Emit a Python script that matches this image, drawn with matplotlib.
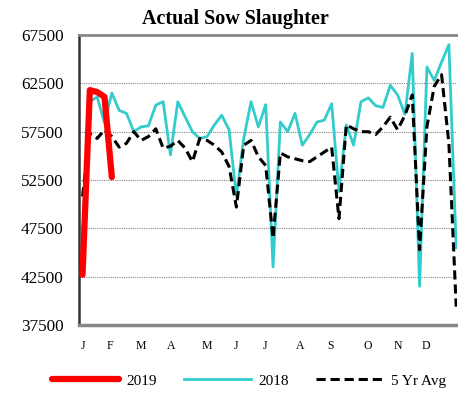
import numpy as np
import matplotlib
matplotlib.use('Agg')
import matplotlib.pyplot as plt

plt.rcParams['font.family'] = ['Liberation Serif', 'DejaVu Serif']

weeks = list(range(1, 53))
y2019 = [42700, 61800, 61600, 61100, 52800]
y2018 = [46800, 60600, 61100, 58400, 61500, 59700, 59400, 57500, 58000, 58100,
         60250, 60600, 55100, 60600, 59050, 57500, 56800, 57000, 58200, 59200,
         57700, 50800, 56800, 60600, 58000, 60300, 43500, 58500, 57500, 59400,
         56100, 57200, 58500, 58700, 60400, 51300, 58200, 56100, 60600, 61000,
         60200, 60000, 62300, 61300, 59300, 65600, 41500, 64200, 62800, 64700,
         66500, 45500]
avg5 = [50800, 57300, 56800, 57700, 57000, 55900, 56300, 57500, 56600, 57000,
        57800, 55800, 56000, 56600, 55800, 54400, 56800, 56600, 56100, 55400,
        53900, 49700, 56100, 56600, 54900, 54000, 46500, 55300, 54900, 54700,
        54500, 54400, 54900, 55400, 55900, 48500, 58200, 57800, 57500, 57500,
        57200, 58000, 59000, 57700, 59200, 61300, 45300, 58000, 62200, 63400,
        56300, 39400]
months = ['J', 'F', 'M', 'A', 'M', 'J', 'J', 'A', 'S', 'O', 'N', 'D']
month_pos = [1.1, 4.75, 9.0, 13.1, 18.0, 21.9, 25.9, 30.65, 34.9, 39.9, 44.0, 47.8]
yticks = [37500, 42500, 47500, 52500, 57500, 62500, 67500]

fig = plt.figure(figsize=(4.58, 4.05), dpi=100)
ax = fig.add_axes([0.1725, 0.1975, 0.826, 0.716])

ax.plot(weeks, y2018, color='#33CCCC', lw=2, label='2018', zorder=2)
ax.plot(weeks, avg5, color='black', lw=2.2, ls=(0, (3, 1.6)), label='5 Yr Avg', zorder=3)
ax.plot(weeks[:len(y2019)], y2019, color='#FF0000', lw=4.5, label='2019',
        solid_capstyle='round', zorder=4)

ax.set_xlim(0.52, 52.15)
ax.set_ylim(37500, 67500)
ax.set_yticks(yticks)
ax.set_yticklabels([str(v) for v in yticks], fontsize=12.3)
ax.set_xticks(month_pos)
ax.set_xticklabels(months, fontsize=8.5)
ax.tick_params(length=0, pad=11)
ax.tick_params(axis='y', pad=11)
for v in yticks[1:-1]:
    ax.axhline(v, color='#888888', lw=0.8, ls=(0, (1, 1)), zorder=1)

ax.spines['right'].set_visible(False)
ax.spines['top'].set_color('#888888')
ax.spines['top'].set_linewidth(2)
ax.spines['bottom'].set_color('#888888')
ax.spines['bottom'].set_linewidth(2.5)
ax.spines['left'].set_color('#333333')
ax.spines['left'].set_linewidth(1.8)

fig.text(0.515, 0.952, 'Actual Sow Slaughter', ha='center', va='center',
         fontsize=14.5, fontweight='bold')

h, l = ax.get_legend_handles_labels()
order = [2, 0, 1]
fig.legend([h[i] for i in order], [l[i] for i in order], loc='center',
           bbox_to_anchor=(0.543, 0.06), ncol=3, frameon=False, fontsize=11,
           handlelength=4.4, columnspacing=1.75, handletextpad=0.5)

fig.savefig('out.png', dpi=100)
